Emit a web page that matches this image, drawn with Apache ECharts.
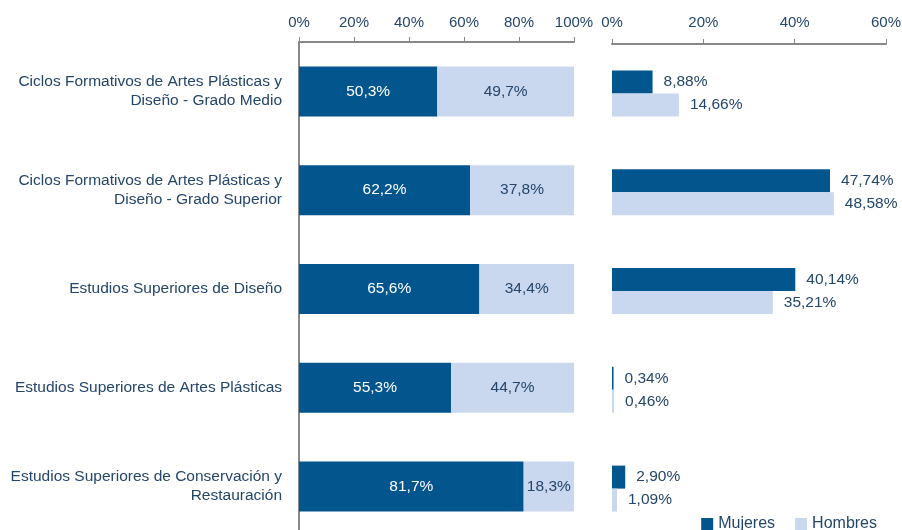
<!DOCTYPE html>
<html>
<head>
<meta charset="utf-8">
<script src="https://cdn.jsdelivr.net/npm/echarts@6/dist/echarts.min.js"></script>
<style>
  html, body { margin: 0; padding: 0; background: #fff; }
  #chart { width: 902px; height: 530px; }
</style>
</head>
<body>
<div id="chart"></div>
<script>
const categories = [
  'Ciclos Formativos de Artes Plásticas y\nDiseño - Grado Medio',
  'Ciclos Formativos de Artes Plásticas y\nDiseño - Grado Superior',
  'Estudios Superiores de Diseño',
  'Estudios Superiores de Artes Plásticas',
  'Estudios Superiores de Conservación y\nRestauración'
]
const shareMujeres = [50.3, 62.2, 65.6, 55.3, 81.7]
const shareHombres = [49.7, 37.8, 34.4, 44.7, 18.3]
const distMujeres = [8.88, 47.74, 40.14, 0.34, 2.90]
const distHombres = [14.66, 48.58, 35.21, 0.46, 1.09]

const DARK = '#03558e'
const LIGHT = '#c9d7ef'
const TEXT = '#24466a'
const FONT = 'Liberation Sans, Arial, sans-serif'

const pct = (digits) => (p) => p.value.toFixed(digits).replace('.', ',') + '%'

const chart = echarts.init(document.getElementById('chart'))
chart.setOption({
  animation: false,
  textStyle: { fontFamily: FONT },
  legend: {
    right: 20,
    top: 511,
    itemWidth: 12,
    itemHeight: 12,
    itemGap: 20,
    icon: 'rect',
    textStyle: { color: TEXT, fontSize: 16, fontFamily: FONT },
    data: ['Mujeres', 'Hombres']
  },
  grid: [
    { left: 299, top: 42, width: 275, height: 494, outerBoundsMode: 'none' },
    { left: 612, top: 44, width: 274, height: 494, outerBoundsMode: 'none' }
  ],
  xAxis: [
    {
      gridIndex: 0,
      type: 'value',
      position: 'top',
      min: 0,
      max: 100,
      interval: 20,
      axisLine: { show: true, lineStyle: { color: '#888', width: 2 } },
      axisTick: { show: true, length: 5, lineStyle: { color: '#888' } },
      splitLine: { show: false },
      axisLabel: { color: TEXT, fontSize: 15, margin: 12, formatter: '{value}%' }
    },
    {
      gridIndex: 1,
      type: 'value',
      position: 'top',
      min: 0,
      max: 60,
      interval: 20,
      axisLine: { show: true, lineStyle: { color: '#888', width: 2 } },
      axisTick: { show: true, length: 5, lineStyle: { color: '#888' } },
      splitLine: { show: false },
      axisLabel: { color: TEXT, fontSize: 15, margin: 14, formatter: '{value}%' }
    }
  ],
  yAxis: [
    {
      gridIndex: 0,
      type: 'category',
      inverse: true,
      data: categories,
      axisLine: { lineStyle: { color: '#888', width: 2 } },
      axisTick: { length: 5, lineStyle: { color: '#888' } },
      axisLabel: { color: TEXT, fontSize: 15.5, lineHeight: 19, margin: 17, align: 'right' }
    },
    {
      gridIndex: 1,
      type: 'category',
      inverse: true,
      data: categories,
      axisLine: { show: false },
      axisTick: { show: false },
      axisLabel: { show: false }
    }
  ],
  series: [
    {
      name: 'Mujeres',
      type: 'bar',
      stack: 'share',
      xAxisIndex: 0,
      yAxisIndex: 0,
      barWidth: 50,
      itemStyle: { color: DARK },
      label: { show: true, position: 'inside', color: '#fff', fontSize: 15.5, formatter: pct(1) },
      data: shareMujeres
    },
    {
      name: 'Hombres',
      type: 'bar',
      stack: 'share',
      xAxisIndex: 0,
      yAxisIndex: 0,
      barWidth: 50,
      itemStyle: { color: LIGHT },
      label: { show: true, position: 'inside', color: TEXT, fontSize: 15.5, formatter: pct(1) },
      data: shareHombres
    },
    {
      name: 'Mujeres',
      type: 'bar',
      xAxisIndex: 1,
      yAxisIndex: 1,
      barWidth: 23,
      barGap: '0%',
      itemStyle: { color: DARK },
      label: { show: true, position: 'right', distance: 11, color: TEXT, fontSize: 15.5, formatter: pct(2) },
      data: distMujeres
    },
    {
      name: 'Hombres',
      type: 'bar',
      xAxisIndex: 1,
      yAxisIndex: 1,
      barWidth: 23,
      barGap: '0%',
      itemStyle: { color: LIGHT },
      label: { show: true, position: 'right', distance: 11, color: TEXT, fontSize: 15.5, formatter: pct(2) },
      data: distHombres
    }
  ]
})
</script>
</body>
</html>
